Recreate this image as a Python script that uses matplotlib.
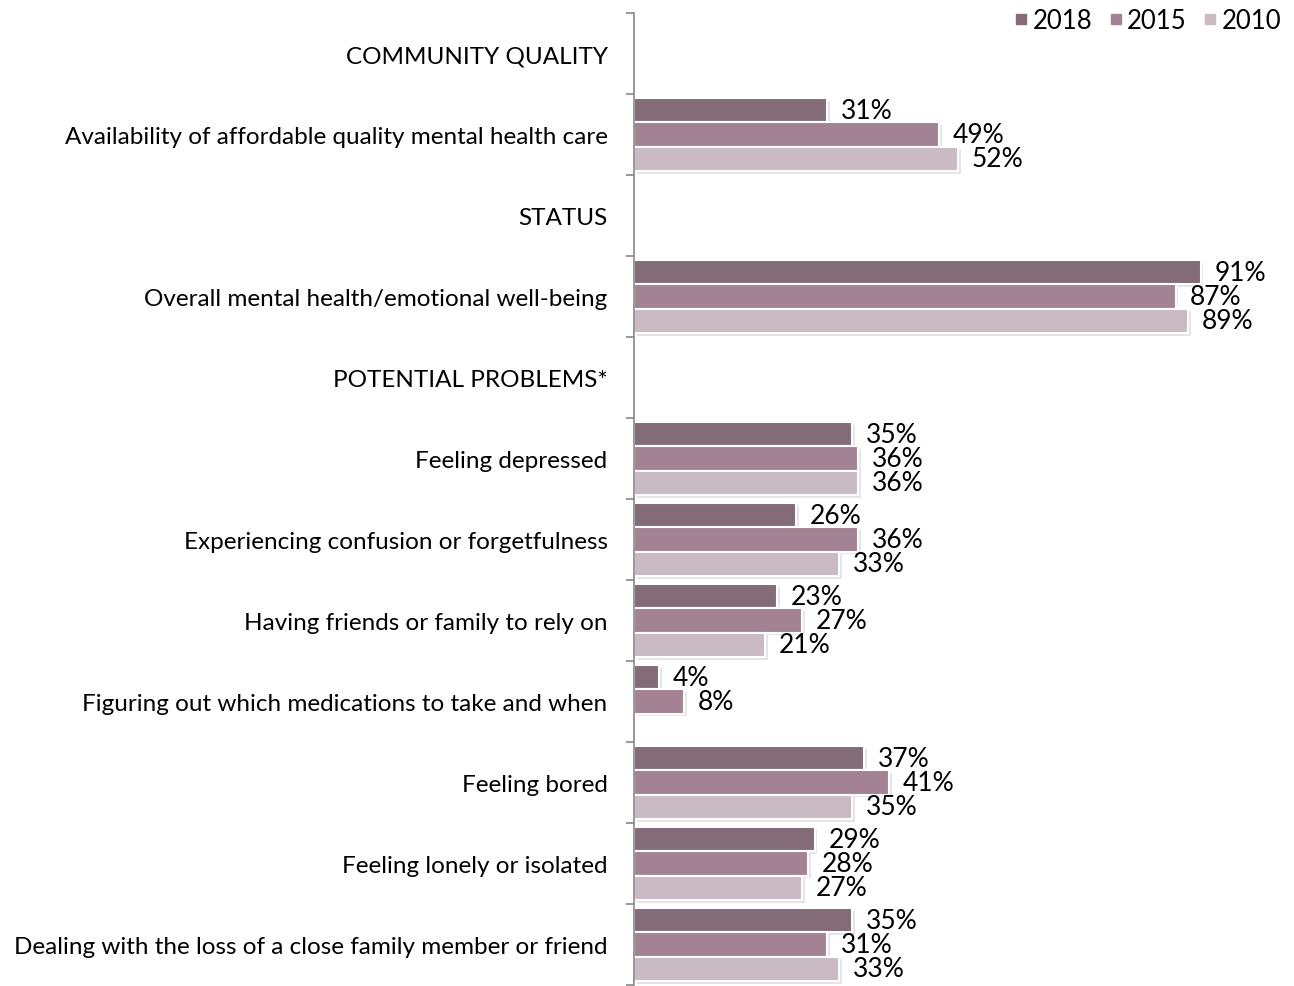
import matplotlib
matplotlib.use("Agg")
import matplotlib.pyplot as plt
import matplotlib.patheffects as pe
from matplotlib.lines import Line2D
import numpy as np

categories = [
    "COMMUNITY QUALITY",
    "Availability of affordable quality mental health care",
    "STATUS",
    "Overall mental health/emotional well-being",
    "POTENTIAL PROBLEMS*",
    "Feeling depressed",
    "Experiencing confusion or forgetfulness",
    "Having friends or family to rely on",
    "Figuring out which medications to take and when",
    "Feeling bored",
    "Feeling lonely or isolated",
    "Dealing with the loss of a close family member or friend",
]
series_names = ["2018", "2015", "2010"]
v2018 = [None, 31, None, 91, None, 35, 26, 23, 4, 37, 29, 35]
v2015 = [None, 49, None, 87, None, 36, 36, 27, 8, 41, 28, 31]
v2010 = [None, 52, None, 89, None, 36, 33, 21, None, 35, 27, 33]
colors = ["#836B78", "#A38294", "#C9BAC4"]

plt.rcParams['font.family'] = ['Lato', 'DejaVu Sans']

fig = plt.figure(figsize=(12.94, 9.87), dpi=100)
ax = fig.add_axes([634/1294, 1 - 986/987, 1 - 634/1294, (986 - 14)/987])

n = len(categories)
ypos = np.arange(n)
h = 0.3
offsets = [-h, 0, h]
shadow = [pe.SimplePatchShadow(offset=(2, -2), shadow_rgbFace="#aaaaaa", alpha=0.3), pe.Normal()]

for vals, off, col in zip([v2018, v2015, v2010], offsets, colors):
    for i, v in enumerate(vals):
        if v is None:
            continue
        b = ax.barh(ypos[i] + off, v, height=h, color=col, edgecolor="white", linewidth=1.5)
        for p in b.patches:
            p.set_path_effects(shadow)
        ax.annotate(f"{v}%", xy=(v, ypos[i] + off), xytext=(10, 0), textcoords="offset points",
                    ha="left", va="center", fontsize=19, color="black")

ax.set_ylim(n - 0.5, -0.5)
ax.set_xlim(0, 106)
ax.set_yticks(ypos)
ax.set_yticklabels(categories, fontsize=17.5)
ax.tick_params(axis="y", which="major", length=0, pad=19)
ax.set_yticks(np.arange(n + 1) - 0.5, minor=True)
ax.tick_params(axis="y", which="minor", length=6, color="#888888", width=1.2)
ax.set_xticks([])
for s in ["top", "right", "bottom"]:
    ax.spines[s].set_visible(False)
ax.spines["left"].set_color("#888888")
ax.spines["left"].set_linewidth(1.2)

handles = [Line2D([], [], marker="s", linestyle="none", markersize=7.5, color=c) for c in colors]
fig.legend(handles, series_names, loc="upper right", bbox_to_anchor=(1.008, 1.014), ncol=3,
           frameon=False, fontsize=18.5, handletextpad=0.0, columnspacing=0.45, handlelength=0.9)

fig.savefig("out.png", dpi=100)
